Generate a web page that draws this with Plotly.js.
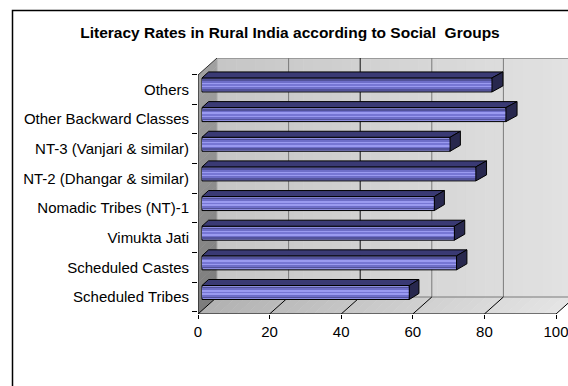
<!DOCTYPE html>
<html>
<head>
<meta charset="utf-8">
<script src="https://cdn.plot.ly/plotly-3.0.1.min.js"></script>
<style>
  html, body { margin: 0; padding: 0; background: #ffffff; }
  #chart { width: 568px; height: 386px; }
</style>
</head>
<body>
<div id="chart"></div>
<script>
// Social groups, bottom to top on the category axis
const groups = [
  "Scheduled Tribes",
  "Scheduled Castes",
  "Vimukta Jati",
  "Nomadic Tribes (NT)-1",
  "NT-2 (Dhangar & similar)",
  "NT-3 (Vanjari & similar)",
  "Other Backward Classes",
  "Others"
];
// Literacy rate in rural areas, per cent
const literacy = [57.9, 71.1, 70.5, 64.9, 76.5, 69.3, 84.9, 81.0];
const xTickVals = [0, 20, 40, 60, 80, 100];
const chartTitle = "Literacy Rates in Rural India according to Social\u00a0 Groups";

// ---- pseudo-3D geometry (pixels) ----
const W = 568, H = 386;
const PLOT_L = 198, PLOT_R = 568, PLOT_T = 58, PLOT_B = 314;
const X0 = 198;        // pixel of value 0 on the front axis
const PXU = 3.58;      // pixels per percentage point
const Y0 = 297;        // pixel centre of the first category band
const CAT = 29.65;     // pixels per category band
const DX = 19, DY = 17;            // depth of walls / floor
const BAR_SX = 4, BAR_SY = 4.5;    // bar front plane shift
const BAR_H = 14, BAR_DY = 6;      // bar thickness and depth
const dxAt = px => 6.5 + 0.015 * (px - X0);   // slight perspective on bar depth

const ux = px => (px - X0) / PXU;
const uy = py => (Y0 - py) / CAT;
const grey = (a, b, t) => { const v = Math.round(a + (b - a) * t); return `rgb(${v},${v},${v})`; };

const shapes = [];

// back wall, light grey shading left to right
const BW_L = X0 + DX, BW_R = 600, N_BW = 40;
for (let i = 0; i < N_BW; i++) {
  const w = (BW_R - BW_L) / N_BW;
  shapes.push({type: "rect", xref: "x", yref: "y", layer: "below",
    x0: ux(BW_L + i * w), x1: ux(BW_L + (i + 1) * w + 0.6),
    y0: uy(PLOT_B - DY), y1: uy(PLOT_T),
    fillcolor: grey(198, 228, i / (N_BW - 1)), line: {width: 0}});
}

// left side wall, darker towards the floor
const LW_TOP = PLOT_T + DY, LW_BOT = PLOT_B, N_LW = 30;
for (let i = 0; i < N_LW; i++) {
  const h = (LW_BOT - LW_TOP) / N_LW;
  const a = LW_TOP + i * h, b = a + h + 0.6;
  shapes.push({type: "path", xref: "x", yref: "y", layer: "below",
    path: `M${ux(X0)},${uy(a)} L${ux(X0 + DX)},${uy(a - DY)} L${ux(X0 + DX)},${uy(b - DY)} L${ux(X0)},${uy(b)} Z`,
    fillcolor: grey(160, 124, i / (N_LW - 1)), line: {width: 0}});
}

// floor, shaded left to right
const FL_L = X0, FL_R = 582, N_FL = 40;
for (let i = 0; i < N_FL; i++) {
  const w = (FL_R - FL_L) / N_FL;
  const a = FL_L + i * w, b = a + w + 0.6;
  shapes.push({type: "path", xref: "x", yref: "y", layer: "below",
    path: `M${ux(a)},${uy(PLOT_B)} L${ux(a + DX)},${uy(PLOT_B - DY)} L${ux(b + DX)},${uy(PLOT_B - DY)} L${ux(b)},${uy(PLOT_B)} Z`,
    fillcolor: grey(178, 232, i / (N_FL - 1)), line: {width: 0}});
}
// clear the floor strip beyond the right edge of the floor
shapes.push({type: "path", xref: "x", yref: "y", layer: "below",
  path: `M${ux(X0 + 100 * PXU)},${uy(PLOT_B)} L${ux(X0 + 100 * PXU + DX)},${uy(PLOT_B - DY)} L${ux(620)},${uy(PLOT_B - DY)} L${ux(620)},${uy(PLOT_B)} Z`,
  fillcolor: "#ffffff", line: {width: 0}});

const seg = (xa, ya, xb, yb, color, width) => shapes.push({type: "line", xref: "x", yref: "y", layer: "below",
  x0: ux(xa), y0: uy(ya), x1: ux(xb), y1: uy(yb), line: {color: color, width: width || 1}});

// back wall edges and gridlines
seg(BW_L, PLOT_T + 0.5, BW_R, PLOT_T + 0.5, "#9a9a9a");
seg(BW_L, PLOT_B - DY, BW_R, PLOT_B - DY, "#7a7a7a");
seg(BW_L, PLOT_T, BW_L, PLOT_B - DY, "#a8a8a8");
xTickVals.forEach(v => {
  if (v === 0) return;
  seg(BW_L + v * PXU, PLOT_T, BW_L + v * PXU, PLOT_B - DY, v === 40 ? "#111111" : "#7a7a7a");
});
// floor gridlines running back from each tick
xTickVals.forEach(v => seg(X0 + v * PXU, PLOT_B, X0 + v * PXU + DX, PLOT_B - DY, "#000000"));
// front axes
seg(X0, PLOT_B, X0 + 100 * PXU, PLOT_B, "#000000");
seg(X0, LW_TOP, X0, PLOT_B, "#000000");
seg(X0, LW_TOP, X0 + DX, PLOT_T, "#303030");

// chart area frame
const px2paperX = px => (px - PLOT_L) / (PLOT_R - PLOT_L);
const py2paperY = py => (PLOT_B - py) / (PLOT_B - PLOT_T);
shapes.push({type: "rect", xref: "paper", yref: "paper", layer: "above",
  x0: px2paperX(12.5), x1: px2paperX(640), y0: py2paperY(460), y1: py2paperY(10.5),
  line: {color: "#000000", width: 1.5}, fillcolor: "rgba(0,0,0,0)"});

// ---- bars ----
const catPos = groups.map((g, i) => i);
const barY = catPos.map(i => i + BAR_SY / CAT);
const barBase = BAR_SX / PXU;
const barW = BAR_H / CAT;

// front faces: stacked bands give the striped gradient
const bands = [
  {w: 1.00, c: "#8c8cde", line: 1},
  {w: 0.80, c: "#52529a", line: 0},
  {w: 0.58, c: "#6e6ec8", line: 0},
  {w: 0.34, c: "#9a9af0", line: 0},
  {w: 0.13, c: "#7676d4", line: 0}
];
const traces = bands.map(b => ({
  type: "bar", orientation: "h",
  x: literacy, y: barY, base: barBase, width: barW * b.w,
  marker: {color: b.c, line: {color: "#000000", width: b.line}},
  hoverinfo: "skip", showlegend: false
}));

// top and end faces, projected from each value
const topX = [], topY = [], endX = [], endY = [];
literacy.forEach((v, i) => {
  const xl = barBase, xr = barBase + v;
  const dxl = dxAt(X0 + xl * PXU) / PXU, dxr = dxAt(X0 + xr * PXU) / PXU;
  const yt = barY[i] + barW / 2, yb = barY[i] - barW / 2, dyu = BAR_DY / CAT;
  topX.push(xl, xr, xr + dxr, xl + dxl, xl, null);
  topY.push(yt, yt, yt + dyu, yt + dyu, yt, null);
  endX.push(xr, xr + dxr, xr + dxr, xr, xr, null);
  endY.push(yt, yt + dyu, yb + dyu, yb, yt, null);
});
traces.push({type: "scatter", mode: "lines", x: topX, y: topY, fill: "toself",
  fillcolor: "#3a3a74", line: {color: "#000000", width: 1}, hoverinfo: "skip", showlegend: false});
traces.push({type: "scatter", mode: "lines", x: endX, y: endY, fill: "toself",
  fillcolor: "#28284e", line: {color: "#000000", width: 1}, hoverinfo: "skip", showlegend: false});

const FONT = "Liberation Sans, Arial, Helvetica, sans-serif";

const layout = {
  width: W, height: H, autosize: false,
  margin: {l: PLOT_L, r: W - PLOT_R, t: PLOT_T, b: H - PLOT_B, pad: 0},
  paper_bgcolor: "#ffffff", plot_bgcolor: "rgba(0,0,0,0)",
  font: {family: FONT, size: 15, color: "#000000"},
  barmode: "overlay", bargap: 0,
  showlegend: false, hovermode: false,
  title: {
    text: "<b>" + chartTitle + "</b>",
    font: {family: FONT, size: 15.5, color: "#000000"},
    xref: "container", yref: "container",
    x: 290 / W, xanchor: "center", y: 1 - 33 / H, yanchor: "middle"
  },
  xaxis: {
    range: [ux(PLOT_L), ux(PLOT_R)], fixedrange: true,
    tickmode: "array", tickvals: xTickVals, ticktext: xTickVals.map(String),
    ticks: "outside", ticklen: 4, tickwidth: 1, tickcolor: "#000000",
    ticklabeloverflow: "allow",
    showline: false, showgrid: false, zeroline: false, automargin: false,
    tickfont: {family: FONT, size: 15, color: "#000000"}
  },
  yaxis: {
    range: [uy(PLOT_B), uy(PLOT_T)], fixedrange: true,
    tickmode: "array", tickvals: catPos, ticktext: groups,
    ticks: "", ticklabelstandoff: 8, ticklabeloverflow: "allow",
    minor: {tickmode: "array", tickvals: catPos.map(i => i - 0.5).concat([catPos.length - 0.5]),
            ticks: "outside", ticklen: 5, tickwidth: 1, tickcolor: "#000000", showgrid: false},
    showline: false, showgrid: false, zeroline: false, automargin: false,
    tickfont: {family: FONT, size: 15, color: "#000000"}
  },
  shapes: shapes
};

Plotly.newPlot("chart", traces, layout, {displayModeBar: false, staticPlot: true});
</script>
</body>
</html>
